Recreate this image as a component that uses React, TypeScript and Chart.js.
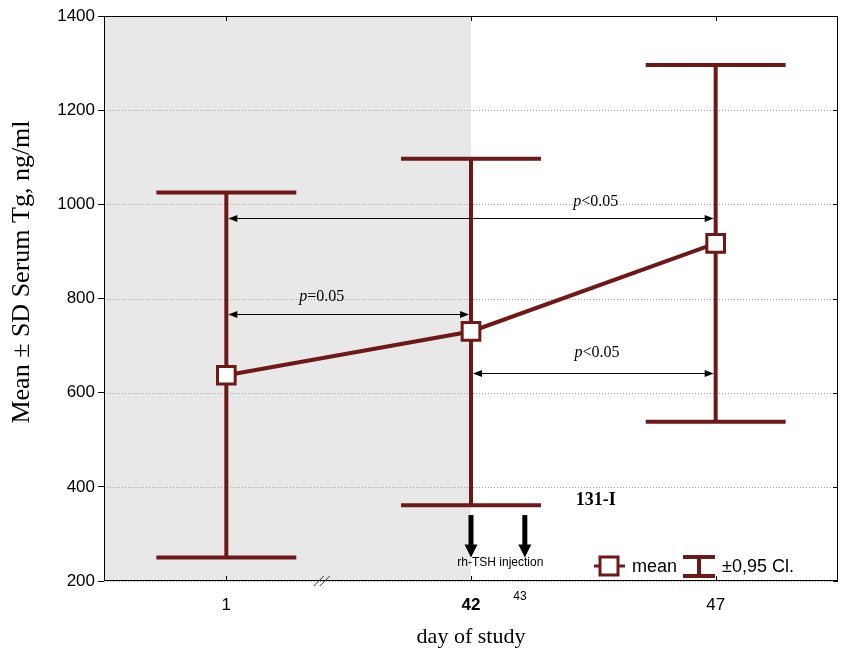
import React, { useEffect, useRef } from 'react';
import { Chart, registerables } from 'chart.js';

Chart.register(...registerables);

// ---------- data ----------
const days = ['1', '42', '47'];
const meanTg = [637, 730, 917];
const ciLower = [250, 361, 538];
const ciUpper = [1025, 1097, 1296];
const yTicks = [200, 400, 600, 800, 1000, 1200, 1400];

// significance comparisons (category indices, y value, label)
const compFrom = [0, 0, 1];
const compTo = [2, 1, 2];
const compY = [970, 768, 642];
const compOp = ['<0.05', '=0.05', '<0.05'];
const compLabelX = [1.51, 0.39, 1.515];
const compLabelY = [1005, 803, 684];

// injection arrows (day 42 and day 43 positions on the category axis)
const injectionX = [1, 1.22];
const injectionTop = 340;
const injectionTip = 250;
const injectionLabel = 'rh-TSH injection';
const injectionLabelPos = [1.12, 238];
const extraDayLabel = '43';
const extraDayPos = 1.2;
const isotopeLabel = '131-I';
const isotopePos = [1.51, 372];

const SANS = '"Liberation Sans", Arial, sans-serif';
const SERIF = '"Liberation Serif", "Times New Roman", serif';
const RED = '#6e1818';

function dblArrow(ctx: CanvasRenderingContext2D, x1: number, x2: number, y: number) {
  const L = 9, H = 3.5;
  ctx.strokeStyle = '#000';
  ctx.fillStyle = '#000';
  ctx.lineWidth = 1;
  ctx.beginPath();
  ctx.moveTo(x1 + 2, y);
  ctx.lineTo(x2 - 2, y);
  ctx.stroke();
  ctx.beginPath();
  ctx.moveTo(x1, y);
  ctx.lineTo(x1 + L, y - H);
  ctx.lineTo(x1 + L, y + H);
  ctx.closePath();
  ctx.fill();
  ctx.beginPath();
  ctx.moveTo(x2, y);
  ctx.lineTo(x2 - L, y - H);
  ctx.lineTo(x2 - L, y + H);
  ctx.closePath();
  ctx.fill();
}

const customPlugin = {
  id: 'customDraw',
  beforeDatasetsDraw(chart: any) {
    const { ctx, chartArea: a, scales } = chart;
    const x = scales.x, y = scales.y;
    ctx.save();
    // shaded period (before day 42)
    const xb = x.getPixelForValue(1);
    ctx.fillStyle = '#e8e8e8';
    ctx.fillRect(a.left, a.top, xb - a.left, a.bottom - a.top);
    // dotted grid
    ctx.strokeStyle = '#a0a0a0';
    ctx.lineWidth = 1;
    ctx.setLineDash([1, 2]);
    yTicks.forEach((v) => {
      const py = Math.round(y.getPixelForValue(v)) + 0.5;
      ctx.beginPath();
      ctx.moveTo(a.left, py);
      ctx.lineTo(a.right, py);
      ctx.stroke();
    });
    ctx.setLineDash([]);
    // inner ticks
    ctx.strokeStyle = '#000';
    yTicks.forEach((v) => {
      const py = Math.round(y.getPixelForValue(v)) + 0.5;
      ctx.beginPath();
      ctx.moveTo(a.right, py);
      ctx.lineTo(a.right - 5, py);
      ctx.stroke();
    });
    days.forEach((_d, i) => {
      const px = Math.round(x.getPixelForValue(i)) + 0.5;
      ctx.beginPath();
      ctx.moveTo(px, a.top);
      ctx.lineTo(px, a.top + 5);
      ctx.moveTo(px, a.bottom);
      ctx.lineTo(px, a.bottom - 5);
      ctx.stroke();
    });
    // frame
    const l = Math.round(a.left) + 0.5, r = Math.round(a.right) - 0.5;
    const t = Math.round(a.top) + 0.5, b = Math.round(a.bottom) - 0.5;
    ctx.strokeStyle = '#000';
    ctx.lineWidth = 1;
    ctx.strokeRect(l, t, r - l, b - t);

    // axis break mark
    const bx = x.getPixelForValue(0.39);
    ctx.beginPath();
    for (const d of [-3, 3]) {
      ctx.moveTo(bx + d - 5, a.bottom + 5);
      ctx.lineTo(bx + d + 5, a.bottom - 5);
    }
    ctx.strokeStyle = '#333';
    ctx.stroke();

    // error bars
    const cw = x.getPixelForValue(1) - x.getPixelForValue(0);
    const half = cw * 0.286;
    ctx.strokeStyle = RED;
    ctx.lineWidth = 4;
    days.forEach((_d, i) => {
      const px = x.getPixelForValue(i);
      const yl = y.getPixelForValue(ciLower[i]);
      const yu = y.getPixelForValue(ciUpper[i]);
      ctx.beginPath();
      ctx.moveTo(px, yl);
      ctx.lineTo(px, yu);
      ctx.moveTo(px - half, yl);
      ctx.lineTo(px + half, yl);
      ctx.moveTo(px - half, yu);
      ctx.lineTo(px + half, yu);
      ctx.stroke();
    });
    ctx.restore();
  },
  afterDatasetsDraw(chart: any) {
    const { ctx, chartArea: a, scales } = chart;
    const x = scales.x, y = scales.y;
    ctx.save();

    // comparison arrows
    compFrom.forEach((f, k) => {
      const x1 = x.getPixelForValue(f) + 2;
      const x2 = x.getPixelForValue(compTo[k]) - 2;
      const py = Math.round(y.getPixelForValue(compY[k])) + 0.5;
      dblArrow(ctx, x1, x2, py);
      // label: italic p + value
      const lx = x.getPixelForValue(compLabelX[k]);
      const ly = y.getPixelForValue(compLabelY[k]);
      ctx.font = `italic 16px ${SERIF}`;
      const wp = ctx.measureText('p').width;
      ctx.font = `16px ${SERIF}`;
      const wr = ctx.measureText(compOp[k]).width;
      const sx = lx - (wp + wr) / 2;
      ctx.fillStyle = '#000';
      ctx.textBaseline = 'middle';
      ctx.textAlign = 'left';
      ctx.font = `italic 16px ${SERIF}`;
      ctx.fillText('p', sx, ly);
      ctx.font = `16px ${SERIF}`;
      ctx.fillText(compOp[k], sx + wp, ly);
    });

    // 131-I label
    ctx.font = `bold 18px ${SERIF}`;
    ctx.textAlign = 'center';
    ctx.textBaseline = 'middle';
    ctx.fillStyle = '#000';
    ctx.fillText(isotopeLabel, x.getPixelForValue(isotopePos[0]), y.getPixelForValue(isotopePos[1]));

    // injection arrows
    injectionX.forEach((iv) => {
      const px = x.getPixelForValue(iv);
      const yt = y.getPixelForValue(injectionTop);
      const yp = y.getPixelForValue(injectionTip);
      ctx.fillStyle = '#000';
      ctx.fillRect(px - 2.5, yt, 5, yp - yt - 12);
      ctx.beginPath();
      ctx.moveTo(px - 6.5, yp - 13);
      ctx.lineTo(px + 6.5, yp - 13);
      ctx.lineTo(px, yp);
      ctx.closePath();
      ctx.fill();
    });
    ctx.font = `12px ${SANS}`;
    ctx.fillText(injectionLabel, x.getPixelForValue(injectionLabelPos[0]), y.getPixelForValue(injectionLabelPos[1]));

    // day 43 label under axis
    ctx.font = `12px ${SANS}`;
    ctx.fillText(extraDayLabel, x.getPixelForValue(extraDayPos), a.bottom + 16);

    // legend (inside plot, bottom right)
    const ly = a.bottom - 15;
    const sx = a.right - 229;
    ctx.strokeStyle = RED;
    ctx.lineWidth = 3;
    ctx.beginPath();
    ctx.moveTo(sx - 15, ly);
    ctx.lineTo(sx + 16, ly);
    ctx.stroke();
    ctx.fillStyle = '#fff';
    ctx.fillRect(sx - 9, ly - 9, 18, 18);
    ctx.strokeRect(sx - 9, ly - 9, 18, 18);
    ctx.fillStyle = '#000';
    ctx.font = `18px ${SANS}`;
    ctx.textAlign = 'left';
    ctx.fillText('mean', sx + 23, ly + 1);
    const ix = a.right - 139;
    ctx.strokeStyle = RED;
    ctx.lineWidth = 4;
    ctx.beginPath();
    ctx.moveTo(ix - 16, ly - 9);
    ctx.lineTo(ix + 16, ly - 9);
    ctx.moveTo(ix - 16, ly + 10);
    ctx.lineTo(ix + 16, ly + 10);
    ctx.moveTo(ix, ly - 9);
    ctx.lineTo(ix, ly + 10);
    ctx.stroke();
    ctx.fillStyle = '#000';
    ctx.fillText('\u00b10,95 Cl.', ix + 23, ly + 1);

    // y-axis title
    ctx.translate(22, 272);
    ctx.rotate(-Math.PI / 2);
    ctx.font = `26px ${SERIF}`;
    ctx.textAlign = 'center';
    ctx.textBaseline = 'middle';
    ctx.fillText('Mean \u00b1 SD Serum Tg, ng/ml', 0, 0);
    ctx.restore();
  },
};

export default function App() {
  const ref = useRef<HTMLCanvasElement>(null);
  useEffect(() => {
    document.body.style.margin = '0';
    const chart = new Chart(ref.current as HTMLCanvasElement, {
      type: 'line',
      data: {
        labels: days,
        datasets: [
          {
            label: 'mean',
            data: meanTg,
            borderColor: RED,
            borderWidth: 4,
            pointStyle: 'rect',
            pointRadius: 12.5,
            pointBorderWidth: 3,
            pointBackgroundColor: '#fff',
            pointBorderColor: RED,
            tension: 0,
          },
        ],
      },
      options: {
        responsive: false,
        animation: false,
        layout: { autoPadding: false, padding: { top: 16, right: 10, left: 0, bottom: 0 } },
        plugins: { legend: { display: false }, tooltip: { enabled: false } },
        scales: {
          x: {
            type: 'category',
            offset: true,
            grid: { display: false, drawTicks: false },
            border: { display: false },
            ticks: {
              color: '#000',
              padding: 14,
              maxRotation: 0,
              font: (c: any) => ({ family: SANS, size: 17, weight: c.index === 1 ? 'bold' : 'normal' }),
            },
            title: {
              display: true,
              text: 'day of study',
              color: '#000',
              font: { family: SERIF, size: 22 },
              padding: { top: 0, bottom: 10 },
            },
            afterFit: (s: any) => {
              s.height = 79;
              s.paddingLeft = 0;
              s.paddingRight = 0;
            },
          },
          y: {
            min: 200,
            max: 1400,
            ticks: {
              stepSize: 200,
              color: '#000',
              padding: 3,
              font: { family: SANS, size: 17 },
              callback: (v: any) => String(v),
            },
            grid: { drawOnChartArea: false, drawTicks: true, tickLength: 6, tickColor: '#000', color: '#000' },
            border: { display: false },
            afterFit: (s: any) => {
              s.width = 104;
              s.paddingTop = 0;
              s.paddingBottom = 0;
            },
          },
        },
      },
      plugins: [customPlugin],
    } as any);
    return () => chart.destroy();
  }, []);
  return (
    <div style={{ width: 848, height: 660 }}>
      <canvas ref={ref} width={848} height={660} style={{ display: 'block' }} />
    </div>
  );
}
